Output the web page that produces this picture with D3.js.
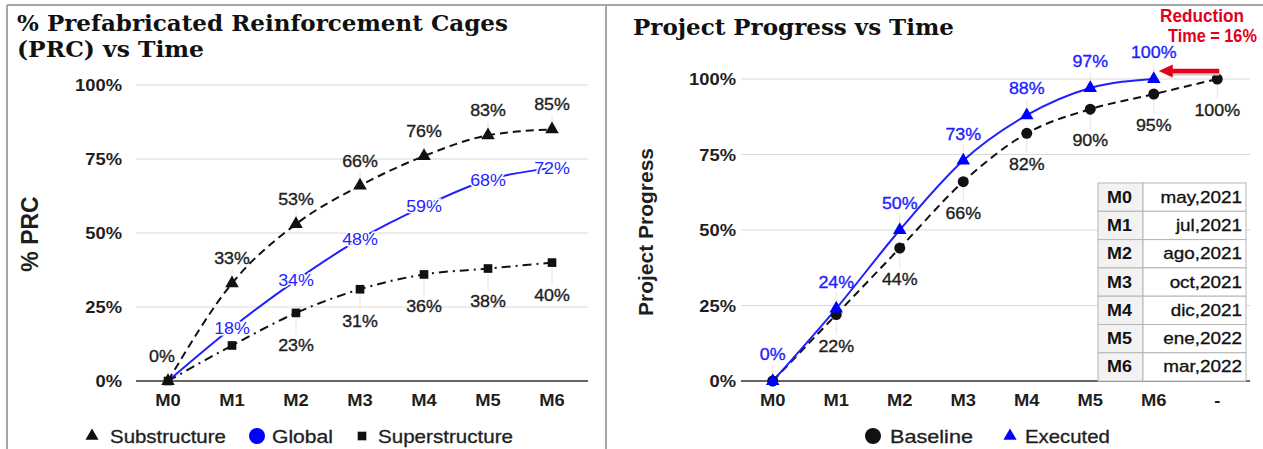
<!DOCTYPE html>
<html><head><meta charset="utf-8">
<script src="https://cdn.jsdelivr.net/npm/d3@7"></script>
<style>
body{margin:0;background:#fff}
svg{display:block}
</style>
</head><body>
<svg id="c" width="1263" height="449" font-family="'Liberation Sans',Arial,Helvetica,sans-serif"></svg>
<script>
// ---------- data ----------
const months = ["M0","M1","M2","M3","M4","M5","M6"];
const substructure = [0, 0.33, 0.53, 0.66, 0.76, 0.83, 0.85];
const globalPRC = [0, 0.18, 0.34, 0.48, 0.59, 0.68, 0.72];
const superstructure = [0, 0.12, 0.23, 0.31, 0.36, 0.38, 0.40];

const progressCats = ["M0","M1","M2","M3","M4","M5","M6","-"];
const baseline = [0, 0.22, 0.44, 0.66, 0.82, 0.90, 0.95, 1.00];
const executed = [0, 0.24, 0.50, 0.73, 0.88, 0.97, 1.00];

const yTicks = [0, 0.25, 0.5, 0.75, 1];
const tableCodes = ["M0","M1","M2","M3","M4","M5","M6"];
const tableDates = ["may,2021","jul,2021","ago,2021","oct,2021","dic,2021","ene,2022","mar,2022"];
const reductionText = ["Reduction", "Time = 16%"];

const leftTitle = ["% Prefabricated Reinforcement Cages", "(PRC) vs Time"];
const rightTitle = "Project Progress vs Time";
const leftLegend = ["Substructure", "Global", "Superstructure"];
const rightLegend = ["Baseline", "Executed"];

// ---------- setup ----------
const svg = d3.select("#c");
const BLUE = "#1f1fff";
const TXT = "#1e1e1e";
const pct = d3.format(".0%");
const SERIF = "'DejaVu Serif', Georgia, serif";

// horizontally widened text (the reference is slightly stretched)
function wtext(g, x, y, str, sx, anchor) {
  return g.append("text").attr("transform", `translate(${x},${y}) scale(${sx},1)`)
    .attr("text-anchor", anchor || "start").text(str);
}
// start-anchored text scaled horizontally to a given width
function fitText(sel, x, y, width) {
  const w = sel.node().getComputedTextLength();
  sel.attr("transform", `translate(${x},${y}) scale(${w > 0 ? width / w : 1},1)`);
  return sel;
}

// frame
const frame = svg.append("g").attr("stroke", "#a6a6a6").attr("stroke-width", 2).attr("fill", "none");
frame.append("line").attr("x1", 7).attr("x2", 1263).attr("y1", 5).attr("y2", 5);
frame.append("line").attr("x1", 7).attr("x2", 7).attr("y1", 5).attr("y2", 449);
frame.append("line").attr("x1", 606).attr("x2", 606).attr("y1", 5).attr("y2", 449);

function title(lines, x, y0, lh, widths) {
  lines.forEach((l, i) => fitText(svg.append("text")
    .style("font-family", SERIF).attr("font-weight", "bold").attr("font-size", 22)
    .attr("fill", "#111").text(l), x, y0 + i * lh, widths[i]));
}
title(leftTitle, 17, 31, 26, [491, 187]);
title([rightTitle], 633, 35, 26, [321]);

function gridAxis(g, y, x0, x1, labelX) {
  yTicks.forEach(v => {
    g.append("line").attr("x1", x0).attr("x2", x1).attr("y1", y(v)).attr("y2", y(v))
      .attr("stroke", v === 0 ? "#333" : "#d9d9d9").attr("stroke-width", v === 0 ? 1.5 : 1.2);
    wtext(g, labelX, y(v) + 6, pct(v), 1.08, "end")
      .attr("font-weight", "bold").attr("font-size", 17).attr("fill", TXT);
  });
}

function xLabels(g, x, cats, yPos) {
  cats.forEach(c => wtext(g, x(c), yPos, c, 1.08, "middle")
    .attr("font-weight", "bold").attr("font-size", 17).attr("fill", TXT));
}

function leader(g, x1, y1, y2) {
  g.append("line").attr("x1", x1).attr("x2", x1).attr("y1", y1).attr("y2", y2)
    .attr("stroke", "#e6e6e6").attr("stroke-width", 1);
}

function dlabel(g, x, y, str, color) {
  return wtext(g, x, y, str, 1.05, "middle").attr("font-size", 17).attr("fill", color)
    .attr("stroke", color).attr("stroke-width", 0.35);
}

function legendText(g, str, x, width) {
  return fitText(g.append("text").attr("stroke", TXT).attr("stroke-width", 0.3).text(str), x, 442.5, width);
}

// ---------- left chart ----------
{
  const g = svg.append("g");
  const x = d3.scalePoint().domain(months).range([136, 584]).padding(0.5);
  const y = d3.scaleLinear().domain([0, 1]).range([381, 85]);
  gridAxis(g, y, 136, 588, 122);
  xLabels(g, x, months, 406);

  g.append("text").attr("transform", `translate(38,234) rotate(-90)`)
    .attr("text-anchor", "middle").attr("font-weight", "bold").attr("font-size", 23)
    .attr("fill", TXT).text("% PRC");

  const line = d3.line().x((d, i) => x(months[i])).y(d => y(d)).curve(d3.curveMonotoneX);

  substructure.forEach((v, i) => leader(g, x(months[i]), y(v) - 14, y(v)));
  superstructure.forEach((v, i) => { if (i > 1) leader(g, x(months[i]), y(v), y(v) + 22); });

  g.append("path").attr("d", line(superstructure)).attr("fill", "none")
    .attr("stroke", "#111").attr("stroke-width", 2).attr("stroke-dasharray", "9,5,2,5");
  g.append("path").attr("d", line(substructure)).attr("fill", "none")
    .attr("stroke", "#111").attr("stroke-width", 2).attr("stroke-dasharray", "8,5");
  g.append("path").attr("d", line(globalPRC)).attr("fill", "none")
    .attr("stroke", BLUE).attr("stroke-width", 2);

  const tri = d3.symbol().type(d3.symbolTriangle).size(80);
  const sq = d3.symbol().type(d3.symbolSquare).size(75);
  substructure.forEach((v, i) => g.append("path").attr("d", tri())
    .attr("transform", `translate(${x(months[i])},${y(v)})`).attr("fill", "#111"));
  superstructure.forEach((v, i) => g.append("path").attr("d", sq())
    .attr("transform", `translate(${x(months[i])},${y(v)})`).attr("fill", "#111"));

  substructure.forEach((v, i) => dlabel(g, x(months[i]) - (i === 0 ? 6 : 0), y(v) - 19, pct(v), TXT));
  superstructure.forEach((v, i) => { if (i > 1) dlabel(g, x(months[i]), y(v) + 38, pct(v), TXT); });
  globalPRC.forEach((v, i) => { if (i > 0) g.append("text")
    .attr("transform", `translate(${x(months[i])},${y(v) + 6}) scale(1.05,1)`)
    .attr("text-anchor", "middle").attr("font-size", 17)
    .attr("fill", BLUE).attr("stroke", "#fff").attr("stroke-width", 3)
    .attr("paint-order", "stroke").text(pct(v)); });

  // legend
  const lg = g.append("g").attr("font-size", 18).attr("fill", TXT);
  lg.append("path").attr("d", d3.symbol().type(d3.symbolTriangle).size(75)())
    .attr("transform", "translate(92,436)").attr("fill", "#111");
  lg.append("circle").attr("cx", 257).attr("cy", 436).attr("r", 8).attr("fill", "#0000ff");
  lg.append("path").attr("d", d3.symbol().type(d3.symbolSquare).size(75)())
    .attr("transform", "translate(362,436)").attr("fill", "#111");
  [[110, 116], [272, 61], [378, 135]].forEach(([lx, w], i) => legendText(lg, leftLegend[i], lx, w));
}

// ---------- right chart ----------
{
  const g = svg.append("g");
  const x = d3.scalePoint().domain(progressCats).range([741, 1249]).padding(0.5);
  const y = d3.scaleLinear().domain([0, 1]).range([381, 79]);
  gridAxis(g, y, 741, 1250, 736);
  xLabels(g, x, progressCats, 406);

  g.append("text").attr("transform", `translate(653,232) rotate(-90)`)
    .attr("text-anchor", "middle").attr("font-weight", "bold").attr("font-size", 21)
    .attr("fill", TXT).text("Project Progress");

  const line = d3.line().x((d, i) => x(progressCats[i])).y(d => y(d)).curve(d3.curveMonotoneX);

  baseline.forEach((v, i) => { if (i > 0) leader(g, x(progressCats[i]), y(v), y(v) + 20); });
  executed.forEach((v, i) => leader(g, x(progressCats[i]), y(v) - 16, y(v)));

  g.append("path").attr("d", line(baseline)).attr("fill", "none")
    .attr("stroke", "#111").attr("stroke-width", 2).attr("stroke-dasharray", "8,5");
  g.append("path").attr("d", line(executed)).attr("fill", "none")
    .attr("stroke", BLUE).attr("stroke-width", 2);

  baseline.forEach((v, i) => g.append("circle").attr("cx", x(progressCats[i])).attr("cy", y(v))
    .attr("r", 5.5).attr("fill", "#111"));
  const tri = d3.symbol().type(d3.symbolTriangle).size(80);
  executed.forEach((v, i) => g.append("path").attr("d", tri())
    .attr("transform", `translate(${x(progressCats[i])},${y(v)})`).attr("fill", "#0000ff"));

  baseline.forEach((v, i) => { if (i > 0) dlabel(g, x(progressCats[i]), y(v) + 37, pct(v), TXT); });
  executed.forEach((v, i) => dlabel(g, x(progressCats[i]), y(v) - 21, pct(v), BLUE));

  // reduction arrow
  const ay = y(1) - 8;
  const ax0 = x("-") + 2, ax1 = x("M6") + 5;
  g.append("line").attr("x1", ax0).attr("x2", ax1 + 10).attr("y1", ay + 3).attr("y2", ay + 3)
    .attr("stroke", "#c8c8c8").attr("stroke-width", 3);
  g.append("line").attr("x1", ax0).attr("x2", ax1 + 10).attr("y1", ay).attr("y2", ay)
    .attr("stroke", "#e3001b").attr("stroke-width", 4.5);
  g.append("path").attr("d", `M${ax1},${ay} L${ax1 + 14},${ay - 6.5} L${ax1 + 14},${ay + 6.5} Z`)
    .attr("fill", "#e3001b");
  [[1160, 22, 84], [1168, 42, 89]].forEach(([tx, ty, w], i) =>
    fitText(g.append("text")
      .style("font-family", "'Liberation Sans Narrow','Arial Narrow','Liberation Sans',sans-serif")
      .attr("font-weight", "bold").attr("font-size", 19).attr("fill", "#e3001b")
      .text(reductionText[i]), tx, ty, w));

  // table
  const tx = 1098, tc = 1143, tr = 1246, ty = 183, rh = 28.3;
  const tg = g.append("g");
  tableCodes.forEach((c, i) => {
    tg.append("rect").attr("x", tx).attr("y", ty + i * rh).attr("width", tc - tx).attr("height", rh)
      .attr("fill", "#f2f2f2").attr("stroke", "#b5b5b5");
    tg.append("rect").attr("x", tc).attr("y", ty + i * rh).attr("width", tr - tc).attr("height", rh)
      .attr("fill", "#fff").attr("stroke", "#b5b5b5");
    wtext(tg, (tx + tc) / 2 - 1, ty + i * rh + rh / 2 + 5.5, c, 1.12, "middle")
      .attr("font-weight", "bold").attr("font-size", 16).attr("fill", "#111");
    wtext(tg, tr - 4, ty + i * rh + rh / 2 + 5.5, tableDates[i], 1.18, "end")
      .attr("font-size", 16).attr("fill", "#111").attr("stroke", "#111").attr("stroke-width", 0.3);
  });

  // legend
  const lg = g.append("g").attr("font-size", 18).attr("fill", TXT);
  lg.append("circle").attr("cx", 873).attr("cy", 436).attr("r", 8).attr("fill", "#111");
  lg.append("path").attr("d", d3.symbol().type(d3.symbolTriangle).size(75)())
    .attr("transform", "translate(1010,436)").attr("fill", "#0000ff");
  [[890, 83], [1025, 85]].forEach(([lx, w], i) => legendText(lg, rightLegend[i], lx, w));
}
</script>
</body></html>
